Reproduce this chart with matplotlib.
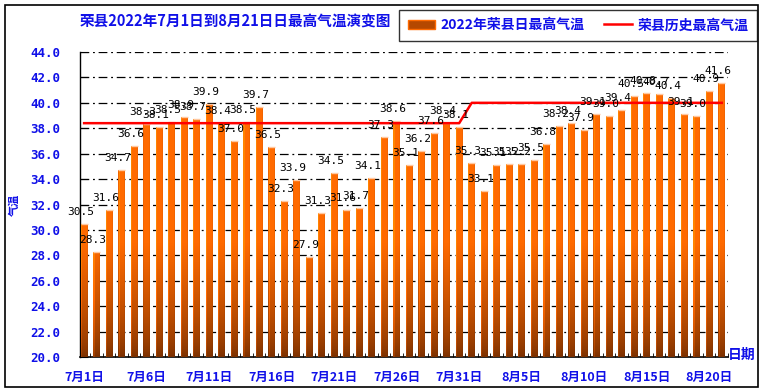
import numpy as np
import matplotlib
matplotlib.use("Agg")
import matplotlib.pyplot as plt
from matplotlib.patches import Rectangle, PathPatch
from matplotlib.path import Path
from matplotlib.lines import Line2D
from matplotlib.colors import to_rgb

plt.rcParams['font.family'] = ['Noto Sans CJK SC', 'DejaVu Sans']

# ---- data ----
dates = (["7月%d日" % d for d in range(1, 32)] + ["8月%d日" % d for d in range(1, 22)])
tmax = [30.5, 28.3, 31.6, 34.7, 36.6, 38.3, 38.1, 38.5, 38.9, 38.7,
        39.9, 38.4, 37.0, 38.5, 39.7, 36.5, 32.3, 33.9, 27.9, 31.3,
        34.5, 31.6, 31.7, 34.1, 37.3, 38.6, 35.1, 36.2, 37.6, 38.4,
        38.1,
        35.3, 33.1, 35.1, 35.2, 35.2, 35.5, 36.8, 38.2, 38.4, 37.9,
        39.1, 39.0, 39.4, 40.5, 40.8, 40.7, 40.4, 39.1, 39.0, 40.9,
        41.6]
hist_max = [38.4] * 31 + [40.0] * 21
yticks = [20, 22, 24, 26, 28, 30, 32, 34, 36, 38, 40, 42, 44]

title = "荣县2022年7月1日到8月21日日最高气温演变图"
bar_name = "2022年荣县日最高气温"
line_name = "荣县历史最高气温"

BLUE = "#1010e8"
W, H = 764, 391
fig = plt.figure(figsize=(W / 100, H / 100), dpi=100)
fig.patch.set_facecolor("white")

fig.patches.append(Rectangle((5 / W, 4 / H), 753 / W, 382 / H, transform=fig.transFigure,
                             fill=False, edgecolor="black", linewidth=1.2))

ax = fig.add_axes([80 / W, (H - 357) / H, 648 / W, 305 / H])
x = np.arange(len(tmax))
xmin, xmax = -0.33, len(tmax) - 0.52
ax.set_xlim(xmin, xmax)
ax.set_ylim(20, 44)
ax.grid(False)

# dash-dot gridlines
for yv in yticks[1:]:
    ax.axhline(yv, color="black", lw=0.9, dashes=(7, 3, 1.5, 3), zorder=0.5)

# bars: solid fill, then gradient image clipped to the bars
bw = 0.54
bars = ax.bar(x, [v - 20 for v in tmax], bottom=20, width=bw, color="#f26400",
              edgecolor="none", linewidth=0, zorder=2)
paths = [b.get_path().transformed(b.get_patch_transform()) for b in bars]
clip = PathPatch(Path.make_compound_path(*paths), transform=ax.transData,
                 facecolor="none", edgecolor="none")
ax.add_patch(clip)

top_c = np.array(to_rgb("#ff6a00"))
bot_c = np.array(to_rgb("#7a3000"))
ys = np.linspace(44, 20, 400)
t = np.clip((ys - 20) / 9.0, 0, 1) ** 0.7
col = bot_c[None, :] * (1 - t[:, None]) + top_c[None, :] * t[:, None]
nx = 2000
xs = np.linspace(xmin, xmax, nx)
frac = ((xs + bw / 2) % 1.0) / bw
prof = np.where(frac < 0.15, 1.25, np.where(frac > 0.85, 0.95, 1.0))
img = np.clip(col[:, None, :] * prof[None, :, None], 0, 1)
im = ax.imshow(img, extent=[xmin, xmax, 20, 44], aspect="auto",
               interpolation="nearest", zorder=3)
im.set_clip_path(clip)

for b, v in zip(bars, tmax):
    x0 = b.get_x()
    ax.plot([x0, x0 + bw], [v, v], color="#ffc8a0", lw=1.0, zorder=4,
            solid_capstyle="butt")

# value labels
for xi, v in zip(x, tmax):
    ax.text(xi - 0.3, v + 0.55, "%.1f" % v, ha="center", va="bottom",
            fontsize=8, family="DejaVu Sans Mono", color="black", zorder=6)

# history maximum line
ax.plot(x, hist_max, color="#ff0000", lw=1.8, zorder=5)

for s in ["top", "right"]:
    ax.spines[s].set_visible(False)
ax.spines["left"].set_linewidth(1.0)
ax.spines["bottom"].set_linewidth(1.2)
ax.set_yticks(yticks)
ax.set_yticklabels(["%.1f" % v for v in yticks], color=BLUE, fontsize=9,
                   fontweight="bold", family="DejaVu Sans Mono")
ax.tick_params(axis="y", direction="in", length=6, pad=14)
ax.set_xticks(x[::5])
ax.set_xticklabels(dates[::5], color=BLUE, fontsize=9, fontweight="bold")
ax.set_xticks(x + 0.5, minor=True)
ax.tick_params(axis="x", which="major", length=0, pad=10)
ax.tick_params(axis="x", which="minor", direction="in", length=3)

fig.text(14 / W, (H - 205) / H, "气温", rotation=90, color=BLUE, fontsize=8,
         fontweight="bold", ha="center", va="center")
fig.text(742 / W, (H - 355) / H, "日期", color=BLUE, fontsize=10,
         fontweight="bold", ha="center", va="center")
fig.text(235 / W, (H - 21) / H, title, color=BLUE, fontsize=10.5,
         fontweight="bold", ha="center", va="center")

handles = [Rectangle((0, 0), 1, 1, facecolor="#b54800", edgecolor="#ff6a00", lw=1.0),
           Line2D([0], [0], color="#ff0000", lw=1.8)]
leg = fig.legend(handles, [bar_name, line_name], ncol=2, loc="upper right",
                 bbox_to_anchor=(757 / W, 1 - 10 / H), borderaxespad=0,
                 frameon=True, fancybox=False,
                 edgecolor="black", borderpad=0.6, handlelength=2.0,
                 columnspacing=1.4, handletextpad=0.4,
                 prop={"size": 10, "weight": "bold"})
leg.get_frame().set_linewidth(1.0)
for txt in leg.get_texts():
    txt.set_color(BLUE)

fig.savefig("out.png", dpi=100, facecolor="white")
